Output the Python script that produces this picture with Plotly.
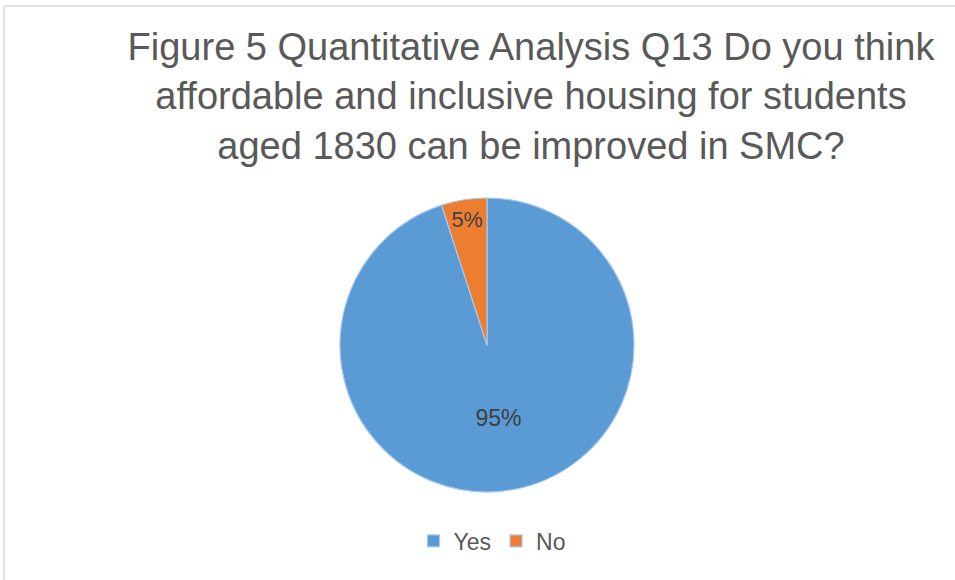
import plotly.graph_objects as go

# Survey responses (share of respondents)
labels = ["Yes", "No"]
values = [95, 5]
colors = ["#5B9BD5", "#ED7D31"]

title_lines = [
    "Figure 5 Quantitative Analysis Q13 Do you think",
    "affordable and inclusive housing for students",
    "aged 1830 can be improved in SMC?",
]

W, H = 955, 580
FONT = "Liberation Sans, Arial, Helvetica, sans-serif"

fig = go.Figure(
    go.Pie(
        labels=labels,
        values=values,
        sort=False,
        direction="clockwise",
        rotation=0,
        marker=dict(colors=colors, line=dict(color="#a9c9ea", width=1.2)),
        textinfo="percent",
        textposition="inside",
        insidetextorientation="horizontal",
        textfont=dict(family=FONT, size=23, color="#404040"),
        hoverinfo="label+percent",
        domain=dict(x=[(487 - 147) / W, (487 + 147) / W],
                    y=[(H - 345 - 147) / H, (H - 345 + 147) / H]),
    )
)

# Chart-area frame (top and left edges)
frame = dict(type="line", xref="paper", yref="paper",
             line=dict(color="#d9d9d9", width=1.5), layer="below")
fig.add_shape(**frame, x0=4 / W, x1=1, y0=1 - 6 / H, y1=1 - 6 / H)
fig.add_shape(**frame, x0=4 / W, x1=4 / W, y0=0, y1=1 - 6 / H)

fig.update_layout(
    width=W,
    height=H,
    margin=dict(l=0, r=0, t=0, b=0),
    paper_bgcolor="white",
    plot_bgcolor="white",
    font=dict(family=FONT, color="#595959"),
    title=dict(
        text="<br>".join(title_lines),
        x=531 / W,
        xanchor="center",
        xref="container",
        y=1 - 60 / H,
        yanchor="top",
        yref="container",
        font=dict(family=FONT, size=38, color="#595959"),
    ),
    showlegend=True,
    legend=dict(
        orientation="h",
        x=492 / W,
        xanchor="center",
        y=(H - 541) / H,
        yanchor="middle",
        font=dict(family=FONT, size=23, color="#595959"),
        bgcolor="rgba(0,0,0,0)",
    ),
)

fig.write_html("out.html")
